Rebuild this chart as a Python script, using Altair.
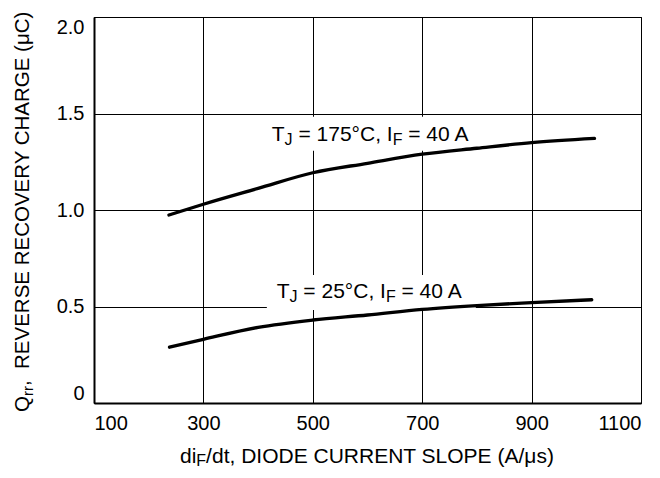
import altair as alt
import pandas as pd

# ---- data ----
slope_175 = [237, 300, 400, 500, 600, 700, 800, 900, 1015]
qrr_175 = [0.974, 1.030, 1.112, 1.193, 1.242, 1.289, 1.320, 1.349, 1.371]
slope_25 = [238, 300, 400, 500, 600, 700, 800, 900, 1010]
qrr_25 = [0.289, 0.330, 0.392, 0.430, 0.456, 0.485, 0.505, 0.520, 0.535]

x_ticks = [100, 300, 500, 700, 900, 1100]
y_ticks = [0, 0.5, 1.0, 1.5, 2.0]

curve_temps = ["175°C", "25°C"]
label_x = [425, 434]          # data x where each curve label starts
label_y = [1.359, 0.5425]     # data y of label baseline
box_x = [407, 416]
box_x2 = [807, 798]
box_y = [1.307, 0.482]
box_y2 = [1.483, 0.663]

FONT = "Liberation Sans, Arial, Helvetica, sans-serif"

# Arial / Liberation Sans advance widths (em)
W = {' ': .278, '=': .584, '°': .4, ',': .278, '/': .278, '(': .333, ')': .333,
     'μ': .576, 'A': .667, 'C': .722, 'D': .722, 'E': .667, 'F': .611, 'G': .778,
     'H': .722, 'I': .278, 'J': .5, 'L': .556, 'N': .722, 'O': .778, 'P': .667,
     'Q': .778, 'R': .722, 'S': .667, 'T': .611, 'U': .722, 'V': .667, 'Y': .667,
     'd': .556, 'i': .222, 'r': .333, 's': .5, 't': .278}
for c in "0123456789":
    W[c] = .556


def width(text, size):
    return sum(W.get(ch, .556) for ch in text) * size


def segments(parts, main=21, sub=16, subdy=4):
    """Lay out text runs left to right; leading blanks become offsets."""
    out, off = [], 0.0
    for text, is_sub in parts:
        size = sub if is_sub else main
        stripped = text.lstrip(" ")
        off += width(text[:len(text) - len(stripped)], size)
        out.append((stripped, off, size, subdy if is_sub else 0))
        off += width(stripped, size)
    return out


xs = alt.Scale(domain=[100, 1100], nice=False, zero=False)
ys = alt.Scale(domain=[0, 2.0], nice=False, zero=True)

curves = pd.DataFrame({
    "slope": slope_175 + slope_25,
    "qrr": qrr_175 + qrr_25,
    "curve": ["175"] * len(slope_175) + ["25"] * len(slope_25),
})

boxes = alt.Chart(pd.DataFrame({"x": box_x, "x2": box_x2, "y": box_y, "y2": box_y2})).mark_rect(
    color="white"
).encode(
    x=alt.X("x:Q", scale=xs, title=None), x2="x2:Q",
    y=alt.Y("y:Q", scale=ys, title=None), y2="y2:Q",
)

lines = alt.Chart(curves).mark_line(
    color="black", strokeWidth=3.3, interpolate="monotone", strokeCap="round"
).encode(
    x=alt.X("slope:Q", scale=xs, title=None,
            axis=alt.Axis(values=x_ticks, format="d", grid=True, labelFlush=True)),
    y=alt.Y("qrr:Q", scale=ys, title=None,
            axis=alt.Axis(values=y_ticks, grid=True, labelFlush=True,
                          labelExpr="datum.value == 0 ? '0' : format(datum.value, '.1f')")),
    detail="curve:N",
)

layers = [boxes, lines]

# curve labels with subscripts
for temp, lx, ly in zip(curve_temps, label_x, label_y):
    parts = [("T", False), ("J", True), (" = " + temp + ", I", False), ("F", True), (" = 40 A", False)]
    for text, off, size, dy in segments(parts):
        layers.append(
            alt.Chart(pd.DataFrame({"x": [lx], "y": [ly], "t": [text]})).mark_text(
                align="left", baseline="alphabetic", dx=off, dy=dy, fontSize=size,
                font=FONT, color="black"
            ).encode(
                x=alt.X("x:Q", scale=xs, title=None),
                y=alt.Y("y:Q", scale=ys, title=None),
                text="t:N",
            )
        )

# x-axis title
for text, off, size, dy in segments([("di", False), ("F", True),
                                      ("/dt, DIODE CURRENT SLOPE (A/μs)", False)], subdy=3):
    layers.append(
        alt.Chart(pd.DataFrame({"t": [text]})).mark_text(
            align="left", baseline="alphabetic", dx=off, dy=dy, fontSize=size,
            font=FONT, color="black"
        ).encode(x=alt.value(86), y=alt.value(446), text="t:N")
    )

# y-axis title (rotated)
for text, off, size, dy in segments([("Q", False), ("rr", True), (",", False),
                                      ("  REVERSE RECOVERY CHARGE (μC)", False)],
                                     main=20.5, sub=15):
    layers.append(
        alt.Chart(pd.DataFrame({"t": [text]})).mark_text(
            align="left", baseline="alphabetic", angle=270, dx=off, dy=dy, fontSize=size,
            font=FONT, color="black"
        ).encode(x=alt.value(-65), y=alt.value(395), text="t:N")
    )

chart = alt.layer(*layers).properties(
    width=547, height=386,
    autosize=alt.AutoSizeParams(type="none"),
    padding={"left": 86, "top": 9, "right": 6, "bottom": 67},
).configure_view(
    stroke="black", strokeWidth=1
).configure_axis(
    domainColor="black", domainWidth=2,
    gridColor="black", gridWidth=1, gridOpacity=1,
    ticks=False, tickSize=0,
    labelFont=FONT, labelFontSize=20, labelColor="black", labelPadding=10,
    labelFlushOffset=0,
)

chart.save("out.html", embed_options={"renderer": "svg", "actions": False})
